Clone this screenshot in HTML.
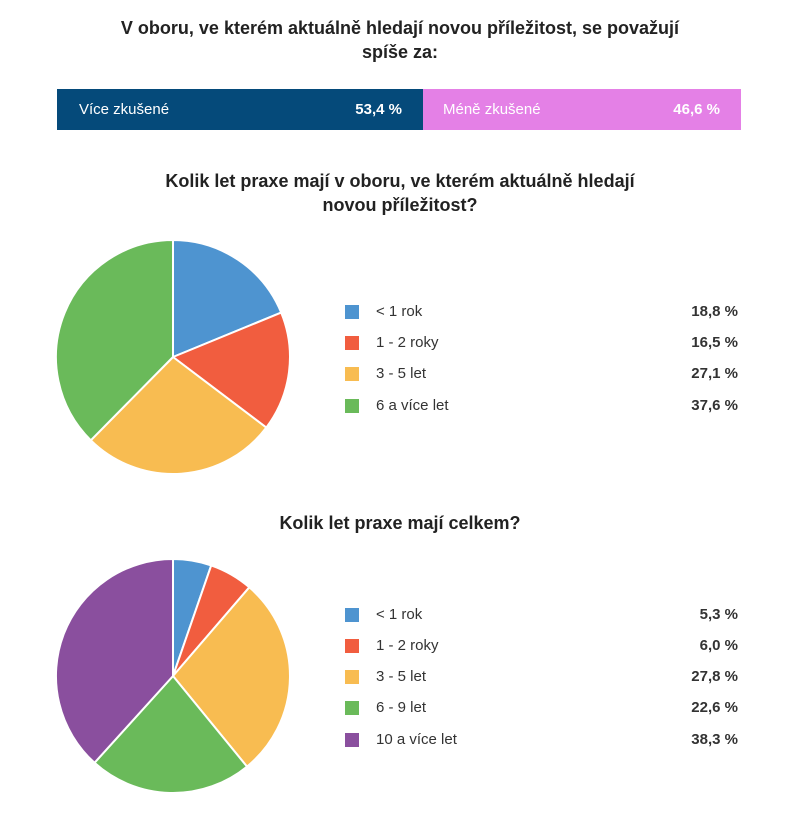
<!DOCTYPE html>
<html><head><meta charset="utf-8"><style>
body{margin:0;width:800px;height:814px;background:#fff;font-family:"Liberation Sans","DejaVu Sans",sans-serif;color:#222;position:relative;overflow:hidden}
.t{position:absolute;left:0;width:800px;text-align:center;font-weight:bold;font-size:18px;line-height:24px;color:#222}
.bar{position:absolute;top:89px;height:41px;color:#fff;font-size:15px;line-height:41px}
.bar span{position:absolute}
.lg{position:absolute;font-size:15px;line-height:20px;color:#333}
.sq{position:absolute;left:345px;width:14px;height:14px}
.lb{position:absolute;left:376px}
.v{position:absolute;right:62px;font-weight:bold}
</style></head><body>
<div class="t" style="top:16px">V oboru, ve kterém aktuálně hledají novou příležitost, se považují<br>spíše za:</div>
<div class="bar" style="left:57px;width:366px;background:#054a7a"><span style="left:22px">Více zkušené</span><span style="right:21px;font-weight:bold">53,4 %</span></div>
<div class="bar" style="left:423px;width:318px;background:#e480e6"><span style="left:20px">Méně zkušené</span><span style="right:21px;font-weight:bold">46,6 %</span></div>
<div class="t" style="top:169px">Kolik let praxe mají v oboru, ve kterém aktuálně hledají<br>novou příležitost?</div>
<div class="t" style="top:511px">Kolik let praxe mají celkem?</div>
<svg width="800" height="814" style="position:absolute;left:0;top:0" stroke="#fff" stroke-width="2" stroke-linejoin="round">
<path d="M173,357 L173,240 A117,117 0 0 1 281.2,312.6 Z" fill="#4e94d0"/>
<path d="M173,357 L281.2,312.6 A117,117 0 0 1 266.3,427.6 Z" fill="#f15d3f"/>
<path d="M173,357 L266.3,427.6 A117,117 0 0 1 90.8,440.3 Z" fill="#f8bc51"/>
<path d="M173,357 L90.8,440.3 A117,117 0 0 1 173,240 Z" fill="#6aba5a"/>
<path d="M173,676 L173,559 A117,117 0 0 1 211.2,565.4 Z" fill="#4e94d0"/>
<path d="M173,676 L211.2,565.4 A117,117 0 0 1 249.3,587.3 Z" fill="#f15d3f"/>
<path d="M173,676 L249.3,587.3 A117,117 0 0 1 247.0,766.6 Z" fill="#f8bc51"/>
<path d="M173,676 L247.0,766.6 A117,117 0 0 1 94.5,762.8 Z" fill="#6aba5a"/>
<path d="M173,676 L94.5,762.8 A117,117 0 0 1 173,559 Z" fill="#8a4f9e"/>
</svg>
<div class="lg" style="left:0;top:2px;width:800px;height:812px">
<div class="sq" style="top:303px;background:#4e94d0"></div><div class="lb" style="top:300px">&lt; 1 rok</div><div class="v" style="top:300px">18,8 %</div>
<div class="sq" style="top:334px;background:#f15d3f"></div><div class="lb" style="top:331px">1 - 2 roky</div><div class="v" style="top:331px">16,5 %</div>
<div class="sq" style="top:365px;background:#f8bc51"></div><div class="lb" style="top:362px">3 - 5 let</div><div class="v" style="top:362px">27,1 %</div>
<div class="sq" style="top:397px;background:#6aba5a"></div><div class="lb" style="top:394px">6 a více let</div><div class="v" style="top:394px">37,6 %</div>
<div class="sq" style="top:606px;background:#4e94d0"></div><div class="lb" style="top:603px">&lt; 1 rok</div><div class="v" style="top:603px">5,3 %</div>
<div class="sq" style="top:637px;background:#f15d3f"></div><div class="lb" style="top:634px">1 - 2 roky</div><div class="v" style="top:634px">6,0 %</div>
<div class="sq" style="top:668px;background:#f8bc51"></div><div class="lb" style="top:665px">3 - 5 let</div><div class="v" style="top:665px">27,8 %</div>
<div class="sq" style="top:699px;background:#6aba5a"></div><div class="lb" style="top:696px">6 - 9 let</div><div class="v" style="top:696px">22,6 %</div>
<div class="sq" style="top:731px;background:#8a4f9e"></div><div class="lb" style="top:728px">10 a více let</div><div class="v" style="top:728px">38,3 %</div>
</div>
</body></html>
